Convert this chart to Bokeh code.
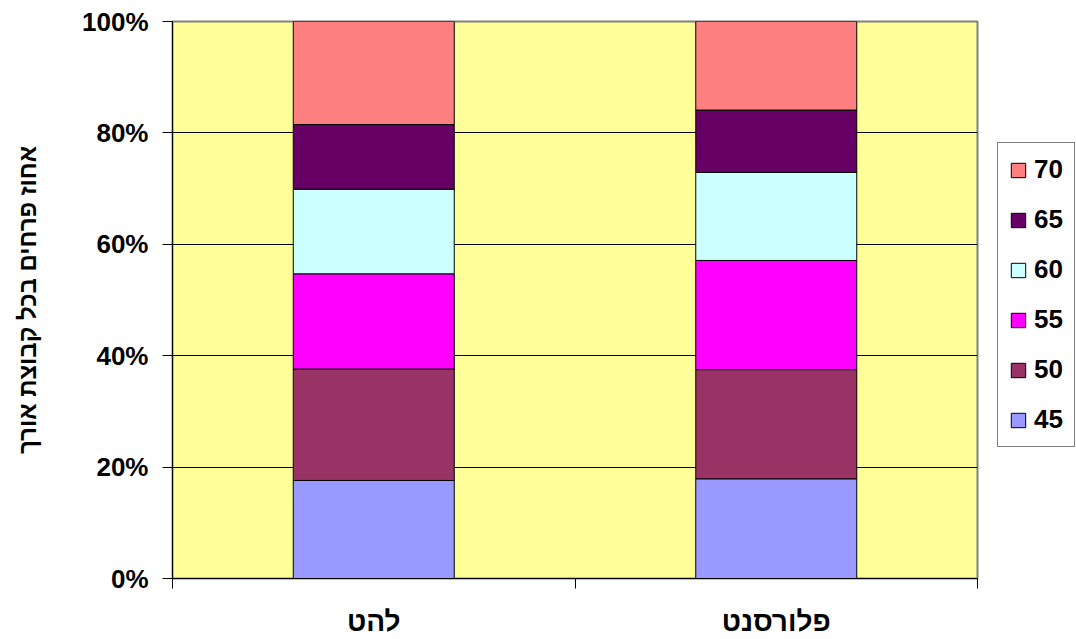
from bokeh.plotting import figure
from bokeh.models import Range1d, FixedTicker, Legend, LegendItem
from bokeh.embed import file_html
from bokeh.resources import INLINE

# Share of flowers (%) in each length group, per lamp type
categories = ["להט", "פלורסנט"]
groups = ["45", "50", "55", "60", "65", "70"]
share_45 = [17.6, 17.9]
share_50 = [20.0, 19.6]
share_55 = [17.1, 19.6]
share_60 = [15.2, 15.8]
share_65 = [11.6, 11.2]
share_70 = [18.5, 15.9]
y_ticks = [0, 20, 40, 60, 80, 100]

colors = ["#9999FF", "#993366", "#FF00FF", "#CCFFFF", "#660066", "#FF8080"]
FONT = "Liberation Sans"

x_pos = [i + 0.5 for i in range(len(categories))]
data = {"x": x_pos, "45": share_45, "50": share_50, "55": share_55,
        "60": share_60, "65": share_65, "70": share_70}

p = figure(frame_width=805, frame_height=557, output_backend="svg", toolbar_location=None,
           x_range=Range1d(0, len(categories)), y_range=Range1d(0, 100),
           min_border_left=172, min_border_right=99, min_border_top=21,
           min_border_bottom=61)
p.background_fill_color = "#FFFF99"
p.border_fill_color = "white"
p.outline_line_color = "#808080"
p.outline_line_width = 2

renderers = p.vbar_stack(groups, x="x", width=0.4, source=data, color=colors,
                         line_color="black", line_width=1)

# y axis
p.yaxis.ticker = FixedTicker(ticks=y_ticks)
p.yaxis.major_label_overrides = {t: f"{t}%" for t in y_ticks}
p.yaxis.axis_label = "אחוז פרחים בכל קבוצת אורך"
p.yaxis.axis_label_text_font = FONT
p.yaxis.axis_label_text_font_size = "24px"
p.yaxis.axis_label_text_font_style = "bold"
p.yaxis.axis_label_text_color = "black"
p.yaxis.axis_label_standoff = 38
p.yaxis.major_label_text_font = FONT
p.yaxis.major_label_text_font_size = "26px"
p.yaxis.major_label_text_font_style = "bold"
p.yaxis.major_label_text_color = "black"
p.yaxis.major_label_standoff = 14
p.yaxis.major_tick_out = 10
p.yaxis.major_tick_in = 0
p.yaxis.minor_tick_line_color = None
p.yaxis.axis_line_color = "black"

# x axis: labels at bar centres, tick marks at category boundaries
p.xaxis.ticker = FixedTicker(ticks=x_pos, minor_ticks=list(range(len(categories) + 1)))
p.xaxis.major_label_overrides = {x: c for x, c in zip(x_pos, categories)}
p.xaxis.major_label_text_font = FONT
p.xaxis.major_label_text_font_size = "28px"
p.xaxis.major_label_text_font_style = "bold"
p.xaxis.major_label_text_color = "black"
p.xaxis.major_label_standoff = 17
p.xaxis.major_tick_out = 0
p.xaxis.major_tick_in = 0
p.xaxis.minor_tick_out = 10
p.xaxis.minor_tick_in = 0
p.xaxis.minor_tick_line_color = "black"
p.xaxis.axis_line_color = "black"

p.xgrid.grid_line_color = None
p.ygrid.ticker = FixedTicker(ticks=y_ticks[1:])
p.ygrid.grid_line_color = "black"
p.ygrid.grid_line_alpha = 1.0

items = [LegendItem(label=g, renderers=[r]) for g, r in zip(groups, renderers)][::-1]
legend = Legend(items=items, location=(20, 131), orientation="vertical",
                label_text_font=FONT, label_text_font_size="26px",
                label_text_font_style="bold", label_text_color="black",
                glyph_width=18, glyph_height=18,
                label_standoff=7, spacing=19, padding=11, margin=0,
                border_line_color="black", border_line_width=1,
                background_fill_color="white", background_fill_alpha=1.0)
p.add_layout(legend, "right")

open("out.html", "w").write(file_html(p, INLINE))
